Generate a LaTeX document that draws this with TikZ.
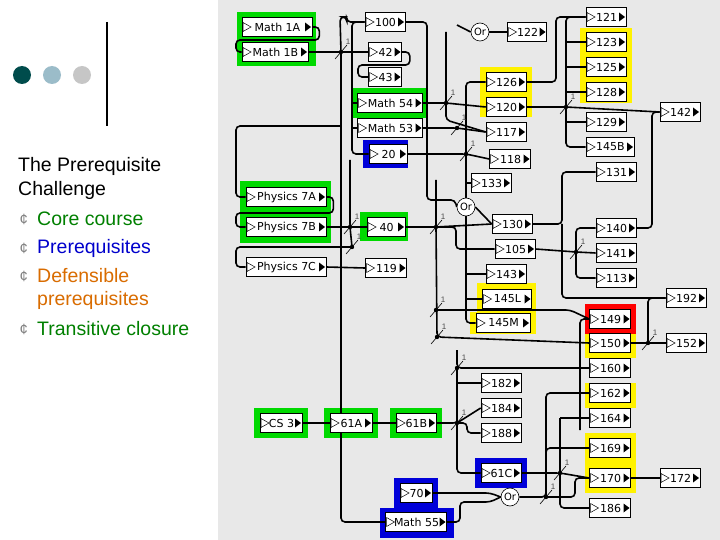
\documentclass[tikz,border=0pt]{standalone}
\usepackage{fontspec}
\setmainfont{Liberation Sans}
\newfontfamily\boxfont{DejaVu Sans}
\pgfdeclarelayer{hl}
\pgfdeclarelayer{cn}
\pgfsetlayers{hl,cn,main}
\begin{document}
\begin{tikzpicture}[x=1pt,y=-1pt,
  box/.style={draw,fill=white,line width=0.6pt,minimum height=19pt,inner sep=1pt,font=\boxfont\fontsize{11}{12}\selectfont,
    path picture={
      \fill[black] ([xshift=-7pt,yshift=4.5pt]path picture bounding box.east) -- ([xshift=-7pt,yshift=-4.5pt]path picture bounding box.east) -- ([xshift=-1pt]path picture bounding box.east) -- cycle;
      \filldraw[fill=white,draw=black,line width=0.5pt] ([xshift=1pt,yshift=4.5pt]path picture bounding box.west) -- ([xshift=1pt,yshift=-4.5pt]path picture bounding box.west) -- ([xshift=9pt]path picture bounding box.west) -- cycle;}},
  orn/.style={circle,draw,fill=white,line width=0.6pt,minimum size=18pt,inner sep=0pt,font=\boxfont\fontsize{10}{10}\selectfont},
  con/.style={line width=1.6pt,rounded corners=4pt},
  hg/.style={fill=green!85!black},
  hy/.style={fill=yellow},
  hb/.style={fill=blue!85!black},
  hr/.style={fill=red},
  lt/.style={anchor=west,font=\fontsize{19.5}{24}\selectfont,inner sep=0pt}]
\useasboundingbox (0,0) rectangle (720,540);
\begin{pgfonlayer}{hl}
\fill[white] (0,0) rectangle (218,540);
\fill[gray!18] (218,0) rectangle (720,540);
\fill[hg] (237,12) rectangle (316,66);
\fill[hg] (353,88) rectangle (428,118);
\fill[hb] (363,140) rectangle (408,168);
\fill[hy] (480,67) rectangle (532,117);
\fill[hy] (580,28) rectangle (632,103);
\fill[hg] (240,181) rectangle (331,243);
\fill[hg] (360,212) rectangle (408,241);
\fill[hy] (477,283) rectangle (536,314);
\fill[hy] (470,312) rectangle (536,334);
\fill[hr] (585,304) rectangle (636,334);
\fill[hy] (585,334) rectangle (636,358);
\fill[hy] (585,383) rectangle (636,408);
\fill[hy] (585,433) rectangle (636,493);
\fill[hg] (254,408) rectangle (308,438);
\fill[hg] (324,408) rectangle (378,438);
\fill[hg] (390,408) rectangle (442,438);
\fill[hb] (475,458) rectangle (527,488);
\fill[hb] (394,478) rectangle (438,508);
\fill[hb] (380,508) rectangle (454,538);
\end{pgfonlayer}
% logo
\fill[teal!60!black] (22,75) circle (9);
\fill[cyan!35!gray!70] (52,75) circle (9);
\fill[gray!45] (82,75) circle (9);
\draw[line width=2.5pt] (107,22) -- (107,126);
% text
\node[lt] (t1a) at (18,166) {The Prerequisite};
\node[lt] (t1b) at (18,190) {Challenge};
\foreach \y/\c/\t in {219/green!50!black/Core course, 248/blue!80!black/Prerequisites, 276/orange!85!black/Defensible, 329/green!50!black/Transitive closure}{
  \node[anchor=west,font=\fontsize{15}{15}\selectfont,text=gray] at (16,\y) {¢};
  \node[lt,text=\c] at (37,\y) {\t};}
\node[lt,text=orange!85!black] (t2) at (37,300) {prerequisites};
\coordinate (J1) at (341,52);
\coordinate (J2) at (446,103);
\coordinate (J3) at (457,128);
\coordinate (J4) at (466,154);
\coordinate (J5) at (566,107);
\coordinate (J6) at (576,252);
\coordinate (J7) at (350,227);
\coordinate (J7b) at (352,247);
\coordinate (J8) at (436,227);
\coordinate (J9) at (437,337);
\coordinate (J10) at (457,368);
\coordinate (J11) at (457,423);
\coordinate (J12) at (560,473);
\coordinate (J13) at (546,497);
\coordinate (J14) at (648,343);
\coordinate (J15) at (436,310);
% boxes
\newcommand\bx[4]{\node[box,minimum width=#3] (#1) at (#2) {\hspace{1pt}#4};}
\bx{m1a}{277,27}{70pt}{Math 1A}
\bx{m1b}{275,52}{66pt}{Math 1B}
\bx{b100}{385,22}{40pt}{100}
\bx{b42}{385,52}{33pt}{42}
\bx{b43}{385,77}{33pt}{43}
\bx{m54}{390,103}{65pt}{Math 54}
\bx{m53}{390,128}{65pt}{Math 53}
\bx{b20}{388,154}{38pt}{20}
\node[orn] (or1) at (480,32) {Or};
\bx{b122}{527,32}{39pt}{122}
\bx{b126}{506,82}{40pt}{126}
\bx{b120}{506,107}{40pt}{120}
\bx{b117}{506,132}{40pt}{117}
\bx{b118}{510,159}{41pt}{118}
\bx{b133}{491,183}{40pt}{133}
\bx{b121}{606,17}{40pt}{121}
\bx{b123}{606,42}{40pt}{123}
\bx{b125}{606,67}{40pt}{125}
\bx{b128}{606,92}{40pt}{128}
\bx{b129}{606,122}{40pt}{129}
\bx{b145B}{610,147}{48pt}{145B}
\bx{b131}{616,172}{40pt}{131}
\bx{b142}{680,112}{40pt}{142}
\bx{p7a}{286,197}{80pt}{Physics 7A}
\bx{p7b}{286,227}{80pt}{Physics 7B}
\bx{p7c}{286,267}{80pt}{Physics 7C}
\bx{b40}{386,227}{38pt}{40}
\bx{b119}{386,268}{41pt}{119}
\node[orn] (or2) at (466,207) {Or};
\bx{b130}{512,224}{40pt}{130}
\bx{b105}{515,249}{40pt}{105}
\bx{b143}{506,274}{40pt}{143}
\bx{b145L}{507,299}{49pt}{145L}
\bx{b145M}{503,323}{54pt}{145M}
\bx{b140}{616,228}{40pt}{140}
\bx{b141}{616,253}{40pt}{141}
\bx{b113}{616,278}{40pt}{113}
\bx{b192}{686,298}{40pt}{192}
\bx{b149}{610,319}{41pt}{149}
\bx{b150}{610,343}{41pt}{150}
\bx{b152}{686,343}{40pt}{152}
\bx{b160}{610,368}{41pt}{160}
\bx{b162}{610,393}{41pt}{162}
\bx{b164}{610,418}{41pt}{164}
\bx{b169}{610,448}{41pt}{169}
\bx{b170}{610,478}{41pt}{170}
\bx{b172}{680,478}{40pt}{172}
\bx{b186}{610,508}{41pt}{186}
\bx{b182}{501,383}{40pt}{182}
\bx{b184}{501,408}{40pt}{184}
\bx{b188}{501,433}{40pt}{188}
\bx{cs3}{281,423}{42pt}{CS 3}
\bx{b61a}{351,423}{42pt}{61A}
\bx{b61b}{416,423}{40pt}{61B}
\bx{b61c}{501,473}{40pt}{61C}
\bx{b70}{416,493}{32pt}{70}
\bx{m55}{416,522}{61pt}{Math 55}
\node[orn] (or3) at (510,497) {Or};
% connectors
\begin{pgfonlayer}{cn}
\draw[con] (m1a.east) -- ++(7,0) |- (260,40) -| (236,52) -- (m1b.west);
\draw[con] (m1b.east) -- (J1) -- (b42.west);
\draw[con] (b100.west) -- ++(-18,0) |- (340,17) -- (J1) -- (341,522) -- (m55.west);
\draw[con] (b42.east) -- ++(8,0) |- (375,65) -| (358,77) -- (b43.west);
\draw[con] (b100.west) -- (352,22) |- (b20.west);
\draw[con] (352,103) -- (m54.west);
\draw[con] (352,128) -- (m53.west);
\draw[con] (341,126) -| (236,197) -- (p7a.west);
\draw[con] (b100.east) -- (427,22) |- (455,200) -- (or2.west);
\draw[con] (m54.east) -- (J2) -- (b120.west);
\draw[con] (446,32) -- (J2) -- (446,120) -- (b117.west);
\draw[con] (m53.east) -- (J3) -- (b117.west);
\draw[con] (457,25) -- (or1.west);
\draw[con] (or1.east) -- (b122.west);
\draw[con] (b20.east) -- (J4) -- (b118.west);
\draw[con] (b126.west) -- (466,82) -- (J4) -- (466,323) -- (b145M.west);
\draw[con] (466,183) -- (b133.west);
\draw[con] (466,274) -- (b143.west);
\draw[con] (466,299) -- (b145L.west);
\draw[con] (b126.east) -- (556,82) |- (b121.west);
\draw[con] (b120.east) -- (J5) -- (b142.west);
\draw[con] (b121.west) -- (566,17) -- (J5) -- (566,147) -- (b145B.west);
\draw[con] (566,42) -- (b123.west);
\draw[con] (566,67) -- (b125.west);
\draw[con] (566,92) -- (b128.west);
\draw[con] (566,122) -- (b129.west);
\draw[con] (b130.east) -- (562,224) |- (b131.west);
\draw[con] (562,224) |- (b192.west);
\draw[con] (b140.east) -- (652,228) |- (b142.west);
\draw[con] (or2.east) -- (b130.west);
\draw[con] (b105.east) -- (J6) -- (b141.west);
\draw[con] (b140.west) -- (576,228) -- (J6) |- (b113.west);
\draw[con] (p7a.east) -- ++(7,0) |- (260,213) -| (236,227) -- (p7b.west);
\draw[con] (p7b.east) -- (J7) -- (b40.west);
\draw[con] (350,160) -- (J7) -- (J7b);
\draw[con] (J7b) -| (236,267) -- (p7c.west);
\draw[con] (p7c.east) -- (b119.west);
\draw[con] (b40.east) -- (J8) -- (b130.west);
\draw[con] (436,180) -- (J8) -- (J9) -- (b150.west);
\draw[con] (J8) -- (456,227) |- (b105.west);
\draw[con] (J15) -- (570,310) -- (b149.west);
\draw[con] (b150.east) -- (J14) -- (b152.west);
\draw[con] (J14) |- (b192.west);
\draw[con] (cs3.east) -- (b61a.west);
\draw[con] (b61a.east) -- (b61b.west);
\draw[con] (b61b.east) -- (J11) -- (b184.west);
\draw[con] (J11) -- (467,423) |- (b188.west);
\draw[con] (457,350) -- (J10) -- (b160.west);
\draw[con] (J10) -- (J11) |- (b61c.west);
\draw[con] (457,383) -- (b182.west);
\draw[con] (b61c.east) -- (J12) -- (b170.west);
\draw[con] (b70.east) -- (490,493) -- (or3.west);
\draw[con] (m55.east) -- (460,522) |- (490,502) -- (or3.west);
\draw[con] (or3.east) -- (J13) |- (b162.west);
\draw[con] (J13) |- (b169.west);
\draw[con] (J13) -- (575,497) |- (b170.west);
\draw[con] (b149.west) -- (580,319) -- (580,430);
\draw[con] (560,418) -- (J12) |- (b186.west);
\draw[con] (560,418) -- (b164.west);
\draw[con] (b170.east) -- (b172.west);
\foreach \j in {J1,J2,J3,J4,J5,J6,J7,J7b,J8,J9,J10,J11,J12,J13,J14,J15}{
  \fill (\j) circle (2.2pt);
  \draw[line width=0.6pt] ([shift={(-6,7)}]\j) -- ([shift={(6,-7)}]\j);
  \node[font=\fontsize{8}{8}\selectfont,text=gray!60!black,inner sep=0pt] at ([shift={(7,-10)}]\j) {1};}
\end{pgfonlayer}
\end{tikzpicture}
\end{document}
